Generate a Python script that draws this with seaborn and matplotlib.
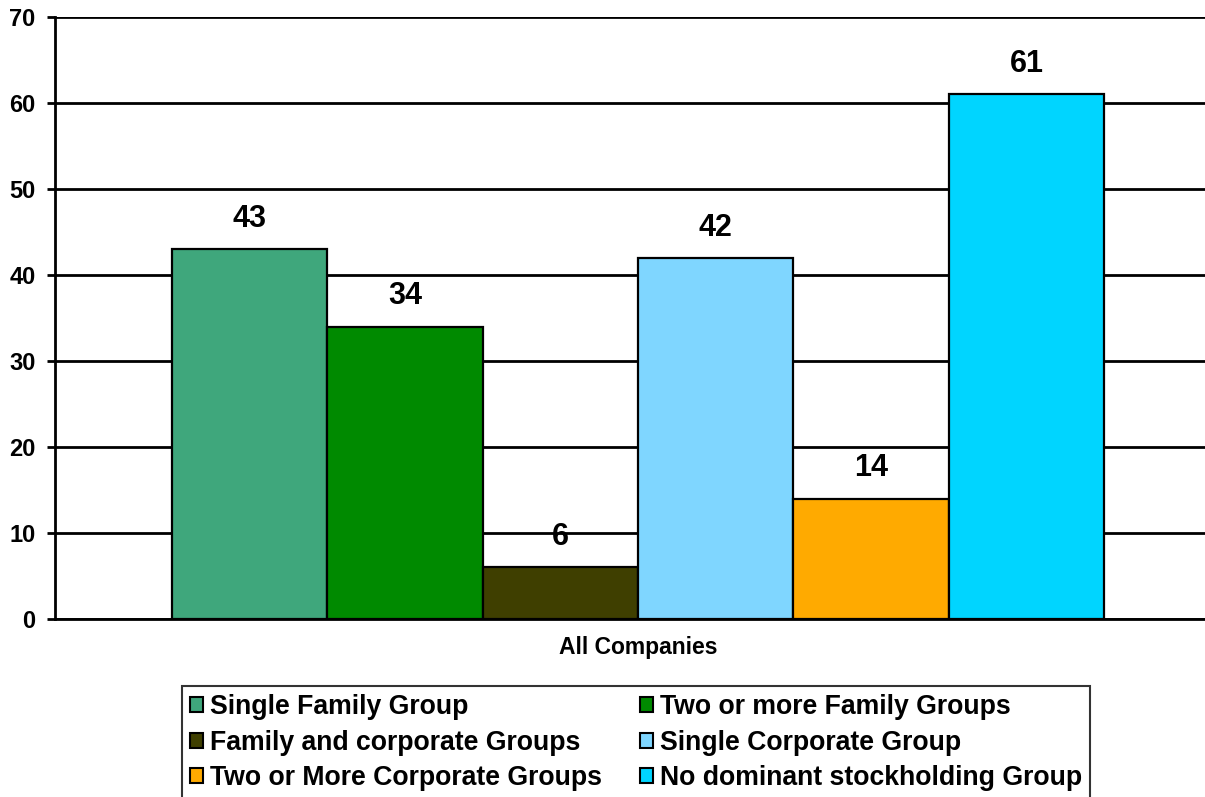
import matplotlib
matplotlib.use("Agg")
import matplotlib.pyplot as plt
import seaborn as sns
import pandas as pd
from matplotlib.patches import Patch

categories = ["All Companies"]
series = ["Single Family Group", "Two or more Family Groups", "Family and corporate Groups",
          "Single Corporate Group", "Two or More Corporate Groups", "No dominant stockholding Group"]
values = [43, 34, 6, 42, 14, 61]
colors = ["#3FA77C", "#008A00", "#3F3F00", "#7FD6FF", "#FFAA00", "#00D5FF"]
yticks = [0, 10, 20, 30, 40, 50, 60, 70]

sns.set_theme(style="white")
plt.rcParams['font.family'] = ['Liberation Sans', 'DejaVu Sans']
plt.rcParams['text.color'] = 'black'
plt.rcParams['xtick.color'] = 'black'
plt.rcParams['ytick.color'] = 'black'
plt.rcParams['axes.labelcolor'] = 'black'

df = pd.DataFrame({"cat": categories * len(series), "series": series, "value": values})

fig = plt.figure(figsize=(12.05, 7.97), dpi=100)
ax = fig.add_axes([55/1205, 1-619/797, (1221-55)/1205, (619-17)/797])

sns.barplot(data=df, x="cat", y="value", hue="series", hue_order=series,
            palette=colors, width=0.8, edgecolor="black", linewidth=1.6,
            saturation=1, ax=ax, legend=False, zorder=3)

ax.set_ylim(0, 70)
ax.set_yticks(yticks)
ax.set_yticklabels([str(t) for t in yticks], fontsize=17, fontweight="bold")
ax.yaxis.grid(True, color="black", linewidth=2, zorder=0)
ax.set_axisbelow(True)
for s in ["top", "right"]:
    ax.spines[s].set_visible(False)
ax.spines["left"].set_color("black")
ax.spines["left"].set_linewidth(2)
ax.spines["bottom"].set_color("black")
ax.spines["bottom"].set_linewidth(2)
ax.tick_params(axis="y", left=True, length=6, width=2, color="black", pad=8)
ax.tick_params(axis="x", bottom=False, labelsize=16.5, pad=6)
for lbl in ax.get_xticklabels():
    lbl.set_fontweight("bold")
ax.set_xlabel("")
ax.set_ylabel("")

for cont in ax.containers:
    ax.bar_label(cont, labels=[f"{int(v)}" for v in cont.datavalues], padding=11,
                 fontsize=22, fontweight="bold", color="black")

handles = [Patch(facecolor=c, edgecolor="black", linewidth=1.5, label=s) for s, c in zip(series, colors)]
order = [0, 2, 4, 1, 3, 5]
leg = fig.legend([handles[i] for i in order], [series[i] for i in order],
                 loc="upper left", bbox_to_anchor=(182/1205, 1-686/797), ncol=2,
                 frameon=True, fancybox=False, edgecolor="black",
                 prop={"weight": "bold", "size": 19.2}, handlelength=0.5, handleheight=0.5,
                 handletextpad=0.25, columnspacing=1.42, labelspacing=0.36,
                 borderpad=0.3, borderaxespad=0)
leg.get_frame().set_linewidth(1.5)

fig.savefig("out.png", dpi=100)
